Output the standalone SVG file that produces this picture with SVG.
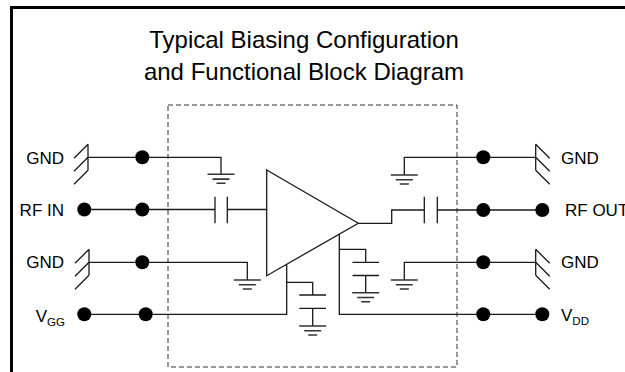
<svg xmlns="http://www.w3.org/2000/svg" xmlns:xlink="http://www.w3.org/1999/xlink" width="625" height="372" viewBox="0 0 625 372">
<style>
.w{fill:none;stroke:#1a1a1a;stroke-width:1.3}
.g{fill:none;stroke:#333;stroke-width:1.6}
.dot{fill:#000}
.lbl{font-family:"Liberation Sans",Arial,sans-serif;font-size:17px;fill:#000}
.sub{font-size:11.5px}
.title{font-family:"Liberation Sans",Arial,sans-serif;font-size:24px;fill:#000;text-anchor:middle}
</style>
<defs>
<g id="gnd"><path class="g" d="M-13.5,0H13.5M-8.5,4.8H8.5M-4.5,9H4.5"/></g>
<g id="hatch"><path class="w" d="M0,-13V13M0,-13L-14,1M0,0L-14,14M0,13L-14,27"/></g>
</defs>
<rect width="625" height="372" fill="#fff"/>
<g id="frame"><path d="M11.5,372V7.5H625" fill="none" stroke="#000" stroke-width="3"/></g>
<g id="title">
<text class="title" x="304" y="48">Typical Biasing Configuration</text>
<text class="title" x="304" y="80">and Functional Block Diagram</text>
</g>
<g id="package"><rect x="168" y="105" width="289" height="262" fill="none" stroke="#333" stroke-width="1" stroke-dasharray="5,3"/></g>
<g id="amplifier"><path class="w" d="M266.7,170L358.3,223.3L266.7,275.7Z" fill="#fff"/></g>
<g id="connectors">
<path class="w" d="M88,157.3H221V174.3"/>
<path class="w" d="M84.3,209.5H215M227.3,209.5H266.7"/>
<path class="w" d="M89,262.3H247.3V280"/>
<path class="w" d="M84.3,314.3H286.7V264.3"/>
<path class="w" d="M286.7,282.3H312.7V295M312.7,308.3V326"/>
<path class="w" d="M404.3,175V157.3H535.7"/>
<path class="w" d="M358.3,223.3H391.7V210H424.3M437.3,210H542.3"/>
<path class="w" d="M404.3,280V262.3H535.7"/>
<path class="w" d="M339.3,234.2V314.3H542.3"/>
<path class="w" d="M339.3,249.3H365.7V262.3M365.7,275.5V292.7"/>
</g>
<g id="cap-in"><path class="w" d="M215,196.7V223.3M227.3,196.7V223.3"/></g>
<g id="cap-out"><path class="w" d="M424.3,196.7V223.3M437.3,196.7V223.3"/></g>
<g id="cap-vgg"><path class="w" d="M299.3,295H326M299.3,308.3H326"/></g>
<g id="cap-vdd"><path class="w" d="M352.5,262.3H379M352.5,275.5H379"/></g>
<g id="grounds">
<use xlink:href="#gnd" href="#gnd" transform="translate(221,174.3)"/>
<use xlink:href="#gnd" href="#gnd" transform="translate(247.3,280)"/>
<use xlink:href="#gnd" href="#gnd" transform="translate(312.7,326)"/>
<use xlink:href="#gnd" href="#gnd" transform="translate(365.7,292.7)"/>
<use xlink:href="#gnd" href="#gnd" transform="translate(404.3,175)"/>
<use xlink:href="#gnd" href="#gnd" transform="translate(404.3,280)"/>
</g>
<g id="pin-gnd-l1">
<use xlink:href="#hatch" href="#hatch" transform="translate(88,157.3)"/>
<circle class="dot" cx="142.3" cy="157.3" r="7"/>
<text class="lbl" x="64" y="163.5" text-anchor="end">GND</text>
</g>
<g id="pin-rfin">
<circle class="dot" cx="84.3" cy="209.5" r="7"/>
<circle class="dot" cx="142.3" cy="209.5" r="7"/>
<text class="lbl" x="64" y="215.5" text-anchor="end">RF IN</text>
</g>
<g id="pin-gnd-l2">
<use xlink:href="#hatch" href="#hatch" transform="translate(89,262.3)"/>
<circle class="dot" cx="142.3" cy="262.3" r="7"/>
<text class="lbl" x="64" y="268.3" text-anchor="end">GND</text>
</g>
<g id="pin-vgg">
<circle class="dot" cx="84.3" cy="314.3" r="7"/>
<circle class="dot" cx="145.7" cy="314.3" r="7"/>
<text class="lbl" x="65" y="321.5" text-anchor="end">V<tspan class="sub" dy="4.5">GG</tspan></text>
</g>
<g id="pin-gnd-r1">
<use xlink:href="#hatch" href="#hatch" transform="translate(535.7,157.3) scale(-1,1)"/>
<circle class="dot" cx="483.3" cy="157.3" r="7"/>
<text class="lbl" x="561" y="163.5">GND</text>
</g>
<g id="pin-rfout">
<circle class="dot" cx="483.3" cy="210" r="7"/>
<circle class="dot" cx="542.3" cy="210" r="7"/>
<text class="lbl" x="565" y="216">RF OUT</text>
</g>
<g id="pin-gnd-r2">
<use xlink:href="#hatch" href="#hatch" transform="translate(535.7,262.3) scale(-1,1)"/>
<circle class="dot" cx="483.3" cy="262.3" r="7"/>
<text class="lbl" x="561" y="268.3">GND</text>
</g>
<g id="pin-vdd">
<circle class="dot" cx="483.3" cy="314.3" r="7"/>
<circle class="dot" cx="542.3" cy="314.3" r="7"/>
<text class="lbl" x="561" y="321">V<tspan class="sub" dy="4">DD</tspan></text>
</g>
</svg>
